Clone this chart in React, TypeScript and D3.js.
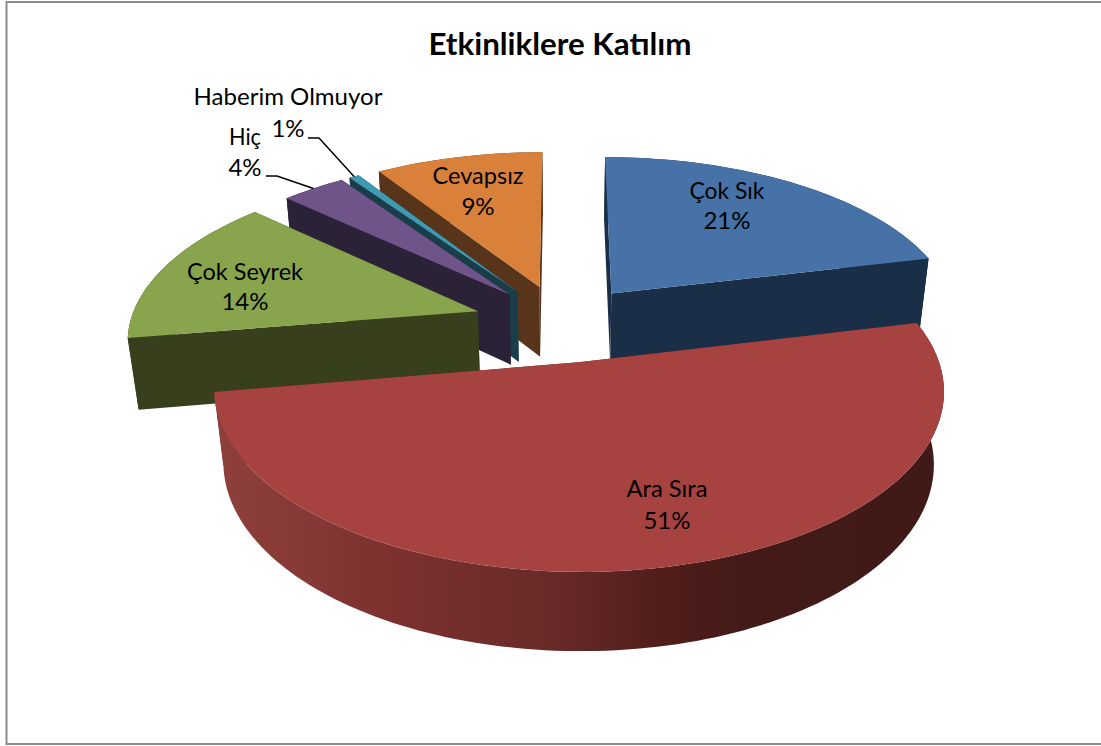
import React from 'react';
import * as d3 from 'd3';

const categories = ['Çok Sık', 'Ara Sıra', 'Çok Seyrek', 'Hiç', 'Haberim Olmuyor', 'Cevapsız'];
// shares, the labels show them rounded
const values = [21.3, 51.1, 14.4, 3.5, 0.55, 9.15];
const topColors = ['#4672a8', '#a64340', '#88a44d', '#6f5489', '#3f99b3', '#d9803b'];
const wallColors = ['#1a2e47', '#5a2321', '#373f1d', '#2c2238', '#1a3d4a', '#58351a'];
const explodes = [0.235, 0.235, 0.255, 0.235, 0.235, 0.235];
const drawOrder = [5, 4, 3, 2, 0, 1];

// label centres in px: name line y, percent line y
const labelSpots = [
  { x: 727, y1: 199, y2: 229, w1: 75 },
  { x: 667, y1: 497, y2: 529, w1: 81 },
  { x: 245, y1: 280, y2: 310, w1: 116 },
  { x: 245, y1: 145, y2: 176, w1: 32 },
  { x: 288, y1: 105, y2: 137, w1: 189 },
  { x: 478, y1: 184, y2: 215, w1: 91 },
];
// leader start points for the two outside labels
const leaderStarts: Record<number, [number, number]> = { 3: [266, 176], 4: [308, 138] };

const W = 1101;
const H = 746;
const CX = 562;
const CY = 323;
const R = 348;
const TILT = 0.474;
const PERSP = 0.15;
const SHRINK = 0.00035;
const DEPTH = 73;

type P = [number, number];

const project = (wx: number, wy: number, z: number): P => {
  const s = 1 / (1 - wy * PERSP - z * SHRINK);
  return [CX + R * wx * s, CY + (R * TILT * wy - z) * s];
};

const slices = d3
  .pie<number>()
  .sort(null)
  .startAngle(0)
  .endAngle(2 * Math.PI)(values);

const line = d3.line();

const App = () => {
  const shapes = drawOrder.map(i => {
    const sl = slices[i];
    const mid = (sl.startAngle + sl.endAngle) / 2;
    const pointAt = (a: number, r: number, z: number) =>
      project(
        Math.sin(a) * r + Math.sin(mid) * explodes[i],
        -Math.cos(a) * r - Math.cos(mid) * explodes[i],
        z
      );
    const steps = Math.max(4, Math.ceil((sl.endAngle - sl.startAngle) * 40));
    const angles = d3.range(steps + 1).map(k => sl.startAngle + ((sl.endAngle - sl.startAngle) * k) / steps);
    const rim = angles.map(a => pointAt(a, 1, 0));
    const rimLow = angles.map(a => pointAt(a, 1, -DEPTH));
    const apex = pointAt(0, 0, 0);
    const apexLow = pointAt(0, 0, -DEPTH);
    const first = rim[0];
    const last = rim[rim.length - 1];
    return {
      i,
      top: line([apex, ...rim]) + 'Z',
      outer: line([...rim, ...rimLow.slice().reverse()]) + 'Z',
      sideA: line([apex, first, rimLow[0], apexLow]) + 'Z',
      sideB: line([apex, last, rimLow[rimLow.length - 1], apexLow]) + 'Z',
      rimMid: pointAt(mid, 1, 0),
    };
  });

  return (
    <svg width={W} height={H} style={{ position: 'absolute', left: 0, top: 0, background: '#fff' }}>
      <defs>
        <linearGradient id="redWall" gradientUnits="userSpaceOnUse" x1={213} x2={945} y1={0} y2={0}>
          <stop offset="0" stopColor="#8f403c" />
          <stop offset="0.25" stopColor="#7c312f" />
          <stop offset="0.47" stopColor="#672a28" />
          <stop offset="0.6" stopColor="#521e1c" />
          <stop offset="0.72" stopColor="#441a17" />
          <stop offset="1" stopColor="#401a17" />
        </linearGradient>
      </defs>
      <rect x={6.5} y={2} width={W} height={742} fill="#fff" stroke="#8c8c8c" strokeWidth={2} />
      {shapes.map(s => (
        <g key={categories[s.i]}>
          <path d={s.sideA} fill={wallColors[s.i]} />
          <path d={s.sideB} fill={wallColors[s.i]} />
          <path d={s.outer} fill={s.i === 1 ? 'url(#redWall)' : wallColors[s.i]} />
          <path d={s.top} fill={topColors[s.i]} />
        </g>
      ))}
      {shapes
        .filter(s => leaderStarts[s.i])
        .map(s => {
          const st = leaderStarts[s.i];
          return (
            <path
              key={s.i}
              d={line([st, [st[0] + 11, st[1]], s.rimMid]) as string}
              fill="none"
              stroke="#000"
              strokeWidth={1.5}
            />
          );
        })}
      <text x={560} y={55} textAnchor="middle" fontFamily="Lato" fontWeight="bold" fontSize={31} textLength={263} lengthAdjust="spacingAndGlyphs">
        Etkinliklere Katılım
      </text>
      {categories.map((name, i) => (
        <g key={name} fontFamily="Lato" fontSize={24} textAnchor="middle" fill="#000">
          <text x={labelSpots[i].x} y={labelSpots[i].y1} textLength={labelSpots[i].w1} lengthAdjust="spacingAndGlyphs">
            {name}
          </text>
          <text x={labelSpots[i].x} y={labelSpots[i].y2}>
            {Math.round(values[i])}%
          </text>
        </g>
      ))}
    </svg>
  );
};

export default App;
